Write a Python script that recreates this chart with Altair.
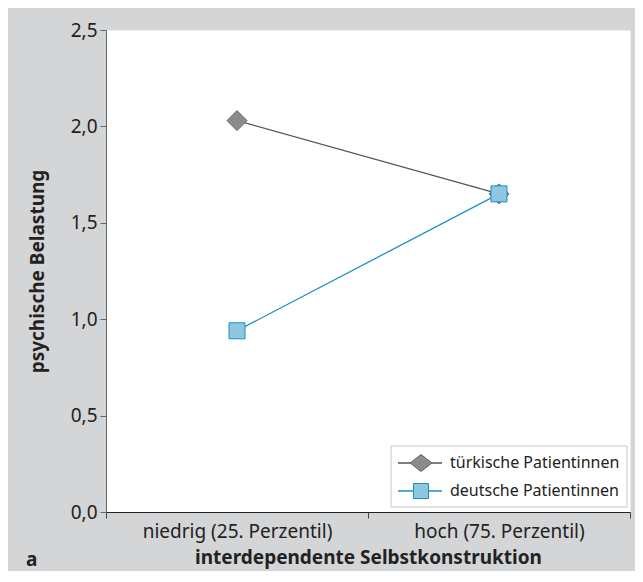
import altair as alt
import pandas as pd

conditions = ["niedrig (25. Perzentil)", "hoch (75. Perzentil)"]
series = ["türkische Patientinnen", "deutsche Patientinnen"]
tuerkisch = [2.03, 1.65]
deutsch = [0.94, 1.65]
y_ticks = [0.0, 0.5, 1.0, 1.5, 2.0, 2.5]

rows = []
for s, vals in zip(series, [tuerkisch, deutsch]):
    for c, v in zip(conditions, vals):
        rows.append({"Bedingung": c, "Gruppe": s, "Wert": v})
df = pd.DataFrame(rows)

FONT = "Noto Sans"
TXT = "#222222"
line_colors = ["#555555", "#1a90c2"]
fill_colors = ["#8b8b8d", "#8ec7e2"]
stroke_colors = ["#666666", "#1a90c2"]

x_enc = alt.X(
    "Bedingung:N",
    sort=conditions,
    scale=alt.Scale(type="band", paddingInner=0, paddingOuter=0),
    axis=alt.Axis(
        title="interdependente Selbstkonstruktion",
        tickBand="extent",
        labelAngle=0,
        labelFontSize=19,
        labelLimit=400,
        labelPadding=4,
        tickSize=6,
        titleFontSize=19,
        titleFontWeight="bold",
        titlePadding=7,
        domainColor="#222222",
        tickColor="#444444",
    ),
)
y_enc = alt.Y(
    "Wert:Q",
    scale=alt.Scale(domain=[0, 2.5]),
    axis=alt.Axis(
        title="psychische Belastung",
        values=y_ticks,
        labelExpr="replace(format(datum.value, '.1f'), '.', ',')",
        labelFontSize=19,
        labelPadding=3,
        tickSize=6,
        grid=False,
        titleFontSize=19,
        titleFontWeight="bold",
        titlePadding=23,
        domainColor="#666666",
        tickColor="#666666",
    ),
)

base = alt.Chart(df)

lines = base.mark_line(strokeWidth=1.3).encode(
    x=x_enc,
    y=y_enc,
    color=alt.Color("Gruppe:N", scale=alt.Scale(domain=series, range=line_colors), legend=None),
    detail="Gruppe:N",
)

pts_tr = base.transform_filter(alt.datum.Gruppe == series[0]).mark_point(
    shape="diamond", filled=True, fill=fill_colors[0], stroke=stroke_colors[0],
    strokeWidth=1.0, size=400, opacity=1,
).encode(x=x_enc, y=y_enc)

pts_de = base.transform_filter(alt.datum.Gruppe == series[1]).mark_point(
    shape="square", filled=True, fill=fill_colors[1], stroke=stroke_colors[1],
    strokeWidth=1.0, size=256, opacity=1,
).encode(x=x_enc, y=y_enc)

# ---- legend (box in the lower right corner of the plot) ----
one = pd.DataFrame({"k": [0]})
legend_box = alt.Chart(one).mark_rect(fill="white", stroke="#c8c8c8", strokeWidth=1).encode(
    x=alt.value(285), x2=alt.value(521), y=alt.value(416), y2=alt.value(477)
)
legend_shapes = ["M-1.1,0L0,-0.85L1.1,0L0,0.85Z", "square"]
legend_sizes = [400, 225]
legend_rows = [433, 461]
legend_layers = [legend_box]
for i, name in enumerate(series):
    src = alt.Chart(pd.DataFrame({"Gruppe": [name]}))
    ypos = legend_rows[i]
    legend_layers.append(
        src.mark_rule(color=line_colors[i], strokeWidth=1.3).encode(
            x=alt.value(292), x2=alt.value(336), y=alt.value(ypos)
        )
    )
    legend_layers.append(
        src.mark_point(
            shape=legend_shapes[i], filled=True, fill=fill_colors[i], stroke=stroke_colors[i],
            strokeWidth=1.0, size=legend_sizes[i], opacity=1,
        ).encode(x=alt.value(315), y=alt.value(ypos))
    )
    legend_layers.append(
        src.mark_text(align="left", baseline="middle", fontSize=16, font=FONT, color=TXT).encode(
            x=alt.value(344), y=alt.value(ypos), text="Gruppe:N"
        )
    )

label_a = alt.Chart(pd.DataFrame({"t": ["a"]})).mark_text(
    fontSize=19, fontWeight="bold", font=FONT, color=TXT, baseline="middle", align="left"
).encode(text="t:N", x=alt.value(-80), y=alt.value(530))

chart = (
    alt.layer(lines, pts_tr, pts_de, *legend_layers, label_a)
    .properties(
        width=524,
        height=482,
        background="#d4d5d7",
        padding={"left": 98, "top": 22, "right": 5, "bottom": 59},
        autosize=alt.AutoSizeParams(type="none"),
    )
    .configure(font=FONT)
    .configure_view(fill="white", strokeOpacity=0)
    .configure_axis(labelColor=TXT, titleColor=TXT, labelFont=FONT, titleFont=FONT)
)

chart.save("out.html", embed_options={"renderer": "svg", "actions": False})
